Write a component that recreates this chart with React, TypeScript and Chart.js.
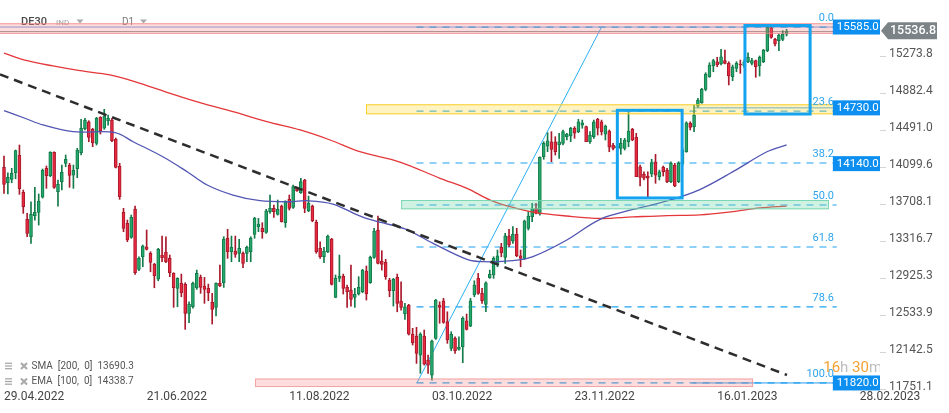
import React, { useEffect, useRef } from 'react';
import { Chart, registerables } from 'chart.js';

Chart.register(...registerables);

// ---------- DATA ----------
const opens = [
  14101, 13938, 13974, 14044, 14228, 13836, 13551, 13367, 13589, 13625,
  13784, 14090, 14012, 14260, 13843, 13949, 14143, 14122, 14019, 14086,
  14255, 14509, 14583, 14503, 14355, 14630, 14514, 14594, 14601, 14397,
  14115, 13625, 13508, 13360, 13660, 13022, 13155, 13261, 13191, 13078,
  12919, 13173, 13205, 13138, 12979, 12821, 12874, 12863, 12556, 12626,
  12826, 12937, 12845, 12821, 12673, 12620, 12874, 12880, 13350, 13208,
  13215, 13191, 13191, 13191, 13208, 13392, 13472, 13456, 13413, 13631,
  13667, 13604, 13691, 13515, 13762, 13678, 13879, 13832, 13967, 13642,
  13691, 13519, 13244, 13155, 13208, 13342, 12726, 12927, 12951, 12831,
  12803, 12726, 12761, 12785, 13004, 12880, 13149, 13438, 13110, 13096,
  12909, 12795, 12937, 12686, 12549, 12644, 12337, 12316, 12115, 12316,
  12062, 11903, 12292, 12644, 12690, 12468, 12186, 12292, 12176, 12203,
  12478, 12422, 12750, 12927, 12768, 12652, 12933, 12962, 13085, 13255,
  13149, 13374, 13321, 13395, 13166, 13138, 13456, 13578, 13667, 13607,
  14213, 14326, 14372, 14372, 14337, 14355, 14425, 14432, 14514, 14478,
  14548, 14531, 14372, 14425, 14609, 14583, 14453, 14485, 14337, 14306,
  14302, 14302, 14372, 14503, 14418, 14107, 14030, 14009, 14030, 14160,
  14002, 14101, 14072, 13949, 14125, 13949, 14136, 14266, 14566, 14531,
  14749, 14784, 14926, 15060, 15173, 15218, 15194, 15229, 15201, 15060,
  15148, 15194, 15176, 15218, 15201, 15229, 15173, 15218, 15335, 15572,
  15455, 15440, 15455, 15510,
];
const highs = [
  14221, 14044, 14090, 14284, 14337, 13861, 13614, 13737, 13889, 13819,
  14083, 14115, 14266, 14266, 13967, 14125, 14231, 14143, 14125, 14302,
  14609, 14619, 14594, 14514, 14630, 14636, 14715, 14654, 14619, 14411,
  14143, 13667, 13543, 13596, 13691, 13155, 13279, 13438, 13208, 13085,
  13244, 13374, 13367, 13173, 12986, 12933, 12972, 12880, 12679, 12887,
  13014, 12962, 12937, 12866, 12768, 12880, 13067, 13367, 13445, 13374,
  13374, 13339, 13208, 13268, 13367, 13572, 13561, 13515, 13657, 13808,
  13702, 13755, 13702, 13748, 13808, 13914, 13893, 13985, 13974, 13797,
  13702, 13543, 13314, 13255, 13385, 13350, 12962, 13173, 12972, 12856,
  13067, 12821, 12944, 13022, 13057, 13162, 13456, 13586, 13219, 13128,
  12927, 12927, 12972, 12891, 12662, 12652, 12398, 12408, 12351, 12380,
  12115, 12274, 12704, 12679, 12715, 12573, 12362, 12309, 12309, 12520,
  12549, 12715, 12901, 12979, 12821, 12891, 13014, 13155, 13226, 13297,
  13403, 13445, 13473, 13456, 13226, 13543, 13631, 13720, 13720, 14213,
  14372, 14467, 14478, 14425, 14461, 14496, 14461, 14524, 14531, 14609,
  14601, 14538, 14478, 14601, 14619, 14601, 14548, 14496, 14355, 14346,
  14408, 14408, 14689, 14514, 14461, 14125, 14054, 14054, 14186, 14238,
  14072, 14115, 14090, 14160, 14143, 14160, 14306, 14583, 14583, 14760,
  14831, 14937, 15102, 15208, 15244, 15265, 15349, 15342, 15218, 15183,
  15218, 15236, 15236, 15313, 15254, 15236, 15279, 15349, 15588, 15582,
  15466, 15511, 15546, 15560,
];
const lows = [
  13826, 13819, 13938, 13980, 13815, 13614, 13367, 13297, 13543, 13490,
  13776, 13879, 14002, 13879, 13691, 13861, 14107, 13889, 13879, 13991,
  14231, 14496, 14372, 14319, 14337, 14453, 14503, 14548, 14372, 14094,
  13762, 13420, 13314, 13350, 12969, 13007, 13049, 13226, 12996, 12827,
  12901, 13102, 13092, 12944, 12620, 12626, 12732, 12387, 12457, 12612,
  12810, 12768, 12662, 12690, 12443, 12528, 12838, 12831, 13138, 13102,
  13149, 13102, 13039, 13102, 13102, 13350, 13420, 13350, 13403, 13614,
  13572, 13596, 13522, 13466, 13649, 13667, 13845, 13826, 13621, 13631,
  13525, 13191, 13138, 13092, 13197, 12856, 12721, 12891, 12761, 12620,
  12633, 12620, 12750, 12774, 12697, 12874, 13138, 13078, 13014, 12916,
  12732, 12633, 12573, 12591, 12493, 12327, 12221, 12027, 11922, 12009,
  11922, 11850, 12281, 12451, 12451, 12239, 12161, 12133, 12168, 12034,
  12380, 12415, 12732, 12757, 12662, 12573, 12927, 12927, 13049, 13155,
  13085, 13261, 13297, 13155, 13049, 13128, 13438, 13525, 13607, 13596,
  14186, 14266, 14160, 14231, 14196, 14337, 14390, 14372, 14408, 14467,
  14514, 14372, 14355, 14408, 14443, 14443, 14390, 14266, 14284, 14286,
  14238, 14284, 14319, 14382, 14002, 13903, 13967, 13779, 14002, 13932,
  13967, 14009, 13938, 13938, 13896, 13938, 14116, 14260, 14496, 14478,
  14736, 14778, 14911, 15053, 15112, 15165, 15183, 15194, 14972, 15017,
  15112, 15095, 15156, 15208, 15183, 15053, 15067, 15208, 15324, 15466,
  15384, 15335, 15440, 15490,
];
const closes = [
  13921, 13995, 14037, 14277, 13875, 13684, 13403, 13604, 13625, 13744,
  14069, 14012, 14260, 13889, 13921, 14048, 14186, 14016, 14072, 14284,
  14514, 14601, 14418, 14361, 14619, 14485, 14644, 14619, 14382, 14101,
  13790, 13456, 13332, 13572, 12986, 13138, 13268, 13233, 13096, 12954,
  13233, 13145, 13102, 12986, 12827, 12927, 12774, 12556, 12655, 12874,
  12979, 12831, 12810, 12774, 12599, 12874, 12848, 13342, 13208, 13255,
  13181, 13244, 13085, 13255, 13350, 13561, 13501, 13420, 13642, 13667,
  13631, 13657, 13525, 13737, 13667, 13896, 13853, 13949, 13667, 13720,
  13536, 13208, 13155, 13215, 13374, 12863, 12927, 12951, 12821, 12785,
  12704, 12757, 12831, 13014, 12761, 13149, 13427, 13085, 13075, 12944,
  12795, 12916, 12662, 12620, 12626, 12337, 12245, 12133, 12337, 12020,
  12009, 12263, 12697, 12620, 12461, 12274, 12334, 12161, 12197, 12503,
  12387, 12690, 12856, 12768, 12690, 12880, 12969, 13138, 13166, 13197,
  13377, 13279, 13392, 13166, 13138, 13533, 13586, 13663, 13614, 14207,
  14355, 14382, 14291, 14266, 14372, 14478, 14453, 14514, 14461, 14583,
  14573, 14372, 14443, 14583, 14514, 14478, 14538, 14313, 14302, 14326,
  14355, 14390, 14485, 14390, 14002, 13995, 13985, 13985, 14150, 14019,
  14054, 14054, 13949, 14143, 13903, 14143, 14286, 14573, 14524, 14654,
  14813, 14926, 15088, 15183, 15229, 15183, 15271, 15201, 15067, 15165,
  15201, 15183, 15216, 15265, 15229, 15165, 15265, 15342, 15582, 15476,
  15406, 15501, 15511, 15536.8,
];

const xTickIdx = [0, 37, 74, 111, 148, 185, 222];
const xTickLabels = ['29.04.2022', '21.06.2022', '11.08.2022', '03.10.2022', '23.11.2022', '16.01.2023', '28.02.2023'];
const yTickValues = [11751.1, 12142.5, 12533.9, 12925.3, 13316.7, 13708.1, 14099.6, 14491.0, 14882.4, 15273.8];

const smaIdx = [0, 5.4, 12.7, 19.7, 27.5, 35.3, 43.1, 50.8, 59.4, 68.2, 76.8, 84.6, 92.3, 102.7, 113.1, 120.1, 126.1, 131.3, 137.2, 146, 154.6, 163.2, 172, 180.5, 189.1, 196.1, 203];
const smaVal = [15310, 15236, 15173, 15123, 15078, 14990, 14884, 14785, 14689, 14584, 14496, 14390, 14266, 14157, 13985, 13879, 13755, 13684, 13628, 13586, 13560, 13576, 13591, 13597, 13632, 13671, 13690.3];
const emaIdx = [0, 5.4, 10.1, 17.9, 28.8, 33.5, 41.2, 47.5, 52.7, 59.4, 66.4, 74.2, 78.6, 85.3, 92.9, 98.1, 104, 111.3, 120.1, 124.3, 132, 137.2, 146, 154.6, 163.2, 172, 180.5, 189.1, 197.9, 203];
const emaVal = [14700, 14620, 14549, 14478, 14469, 14372, 14213, 14055, 13914, 13808, 13748, 13737, 13748, 13713, 13576, 13515, 13449, 13297, 13128, 13103, 13113, 13156, 13332, 13551, 13655, 13745, 13866, 14055, 14266, 14338.7];

const fibNames = ['0.0', '23.6', '38.2', '50.0', '61.8', '78.6', '100.0'];
const fibValues = [15585, 14696.5, 14146.8, 13702.5, 13258.2, 12625.7, 11820];
const fibIdxRange = [107, 216];
const fibDiagIdx = [107.1, 155];
const fibDiagVal = [11820, 15585];

const trendIdx = [-1.04, 203.1];
const trendVal = [15084, 11904];

const levelValues = [15585.0, 14730.0, 14140.0, 11820.0];
const levelLineStartIdx = [-2, 179.2, null, 178.5];
const lastPrice = 15536.8;

const topBandIdx = [-2, 230];
const topBandVal = [15625, 15513];
const yellowBandIdx = [93.9, 230];
const yellowBandVal = [14768, 14662];
const greenBandIdx = [103, 214];
const greenBandVal = [13755, 13657];
const bottomBandIdx = [65.1, 194.3];
const bottomBandVal = [11867, 11777];

const box1Idx = [159.1, 175.9];
const box1Val = [14704, 13777];
const box2Idx = [192.2, 209.1];
const box2Val = [15601, 14665];

const smaLabel = 'SMA  [200,  0]  13690.3';
const emaLabel = 'EMA  [100,  0]  14338.7';

const X_MIN = -1.04;
const X_MAX = 227.23;
const Y_MIN = 11745.5;
const Y_MAX = 15871;

const GREEN = '#25a86c';
const GREEN_DARK = '#137a49';
const RED = '#e8293f';
const RED_DARK = '#a8192b';
const FONT = 'Roboto, sans-serif';

const isUp = (i: number) => closes[i] >= opens[i];

const overlay = {
  id: 'overlay',
  beforeDatasetsDraw(chart: any) {
    const { ctx, chartArea: a } = chart;
    const xs = chart.scales.x;
    const ys = chart.scales.y;
    const px = (v: number) => xs.getPixelForValue(v);
    const py = (v: number) => ys.getPixelForValue(v);
    ctx.save();
    ctx.beginPath();
    ctx.rect(a.left, a.top, a.right - a.left, a.bottom - a.top);
    ctx.clip();

    // header
    ctx.textBaseline = 'middle';
    ctx.textAlign = 'left';
    ctx.fillStyle = '#4a4a4a';
    ctx.font = `500 11px ${FONT}`;
    ctx.fillText('DE30', 21, 22);
    ctx.fillStyle = '#a0a0a0';
    ctx.font = `8px ${FONT}`;
    ctx.fillText('IND', 56, 23);
    ctx.fillStyle = '#7a7a7a';
    ctx.font = `10px ${FONT}`;
    ctx.fillText('D1', 122, 22);
    ctx.fillStyle = '#aaaaaa';
    [80, 143.5].forEach((cx) => {
      ctx.beginPath();
      ctx.moveTo(cx - 3.5, 19.5);
      ctx.lineTo(cx + 3.5, 19.5);
      ctx.lineTo(cx, 23.5);
      ctx.closePath();
      ctx.fill();
    });

    // current price line
    ctx.strokeStyle = 'rgba(110,110,110,0.75)';
    ctx.lineWidth = 1;
    ctx.beginPath();
    ctx.moveTo(a.left, py(lastPrice));
    ctx.lineTo(a.right, py(lastPrice));
    ctx.stroke();

    // level lines (solid)
    levelValues.forEach((v, i) => {
      const s = levelLineStartIdx[i];
      if (s === null) return;
      ctx.strokeStyle = i === 0 ? '#6f9de6' : '#2d9cf0';
      ctx.lineWidth = 1;
      ctx.beginPath();
      ctx.moveTo(Math.max(a.left, px(s)), py(v));
      ctx.lineTo(a.right, py(v));
      ctx.stroke();
    });

    // fib dashed lines
    ctx.strokeStyle = '#1ea2f0';
    ctx.lineWidth = 1.2;
    ctx.setLineDash([7, 6]);
    fibValues.forEach((v) => {
      ctx.beginPath();
      ctx.moveTo(px(fibIdxRange[0]), py(v));
      ctx.lineTo(px(fibIdxRange[1]), py(v));
      ctx.stroke();
    });
    ctx.setLineDash([]);

    // fib diagonal
    ctx.strokeStyle = '#2bb0f5';
    ctx.lineWidth = 1;
    ctx.beginPath();
    ctx.moveTo(px(fibDiagIdx[0]), py(fibDiagVal[0]));
    ctx.lineTo(px(fibDiagIdx[1]), py(fibDiagVal[1]));
    ctx.stroke();

    ctx.restore();
  },
  afterDatasetsDraw(chart: any) {
    const { ctx, chartArea: a } = chart;
    const xs = chart.scales.x;
    const ys = chart.scales.y;
    const px = (v: number) => xs.getPixelForValue(v);
    const py = (v: number) => ys.getPixelForValue(v);
    ctx.save();
    ctx.beginPath();
    ctx.rect(a.left, a.top, a.right - a.left, a.bottom - a.top);
    ctx.clip();

    const band = (idx: number[], val: number[], fill: string, stroke: string) => {
      const x1 = px(idx[0]);
      const x2 = px(idx[1]);
      const y1 = py(val[0]);
      const y2 = py(val[1]);
      ctx.fillStyle = fill;
      ctx.fillRect(x1, y1, x2 - x1, y2 - y1);
      ctx.strokeStyle = stroke;
      ctx.lineWidth = 1;
      ctx.strokeRect(x1 + 0.5, y1 + 0.5, x2 - x1 - 1, y2 - y1 - 1);
    };
    band(topBandIdx, topBandVal, 'rgba(244,130,130,0.28)', 'rgba(240,130,130,0.75)');
    band(bottomBandIdx, bottomBandVal, 'rgba(244,130,130,0.28)', 'rgba(240,140,140,0.7)');
    band(yellowBandIdx, yellowBandVal, 'rgba(255,220,80,0.35)', 'rgba(247,205,40,0.95)');
    band(greenBandIdx, greenBandVal, 'rgba(110,215,170,0.33)', 'rgba(110,210,170,0.85)');

    // blue boxes
    ctx.strokeStyle = '#13a3ef';
    ctx.lineWidth = 3;
    [[box1Idx, box1Val], [box2Idx, box2Val]].forEach(([bi, bv]) => {
      const x1 = px(bi[0]);
      const x2 = px(bi[1]);
      const y1 = py(bv[0]);
      const y2 = py(bv[1]);
      ctx.strokeRect(x1, y1, x2 - x1, y2 - y1);
    });

    // black dashed trend line
    ctx.strokeStyle = '#2d2d2d';
    ctx.lineWidth = 2.5;
    ctx.setLineDash([9, 6]);
    ctx.beginPath();
    ctx.moveTo(px(trendIdx[0]), py(trendVal[0]));
    ctx.lineTo(px(trendIdx[1]), py(trendVal[1]));
    ctx.stroke();
    ctx.setLineDash([]);

    // fib labels
    ctx.font = `11px ${FONT}`;
    ctx.fillStyle = '#2ea4ec';
    ctx.textAlign = 'right';
    ctx.textBaseline = 'middle';
    fibValues.forEach((v, i) => {
      ctx.fillText(fibNames[i], px(215.3), py(v) - 9);
    });

    // timer
    ctx.textAlign = 'left';
    ctx.font = `15px ${FONT}`;
    let tx = px(212.5);
    const ty = py(11820) - 15;
    [['16', '#f5a032'], ['h', '#bdbdbd'], [' 30', '#f5a032'], ['m', '#bdbdbd']].forEach(([t, c]) => {
      ctx.fillStyle = c;
      ctx.fillText(t, tx, ty);
      tx += ctx.measureText(t).width;
    });

    // indicator legend
    const legendRows = [smaLabel, emaLabel];
    legendRows.forEach((label, r) => {
      const cy = a.bottom - 24 + r * 15.5;
      ctx.strokeStyle = '#a8a8a8';
      ctx.lineWidth = 1.3;
      for (let k = -1; k <= 1; k++) {
        ctx.beginPath();
        ctx.moveTo(a.left + 5, cy + k * 2.7);
        ctx.lineTo(a.left + 12, cy + k * 2.7);
        ctx.stroke();
      }
      ctx.lineWidth = 2;
      ctx.beginPath();
      ctx.moveTo(a.left + 21, cy - 3);
      ctx.lineTo(a.left + 27, cy + 3);
      ctx.moveTo(a.left + 27, cy - 3);
      ctx.lineTo(a.left + 21, cy + 3);
      ctx.stroke();
      ctx.fillStyle = '#555555';
      ctx.font = `10px ${FONT}`;
      ctx.textAlign = 'left';
      ctx.fillText(label, a.left + 31.5, cy);
    });

    ctx.restore();
  },
  afterDraw(chart: any) {
    const { ctx, chartArea: a } = chart;
    const xs = chart.scales.x;
    const ys = chart.scales.y;
    const px = (v: number) => xs.getPixelForValue(v);
    const py = (v: number) => ys.getPixelForValue(v);
    ctx.save();
    // level label boxes
    levelValues.forEach((v) => {
      const x1 = px(215);
      const cy = py(v);
      ctx.fillStyle = '#0c8ff0';
      ctx.fillRect(x1, cy - 7.5, a.right - x1, 15);
      ctx.fillStyle = '#ffffff';
      ctx.font = `11.5px ${FONT}`;
      ctx.textAlign = 'left';
      ctx.textBaseline = 'middle';
      ctx.fillText(v.toFixed(1), x1 + 4, cy + 0.5);
    });
    // current price tag
    const cy = py(lastPrice) - 0.8;
    const l = a.right + 1;
    ctx.fillStyle = '#7b8387';
    ctx.beginPath();
    ctx.moveTo(l, cy);
    ctx.lineTo(l + 7, cy - 8.5);
    ctx.lineTo(l + 56, cy - 8.5);
    ctx.lineTo(l + 56, cy + 8.5);
    ctx.lineTo(l + 7, cy + 8.5);
    ctx.closePath();
    ctx.fill();
    ctx.fillStyle = '#ffffff';
    ctx.font = `500 12.5px ${FONT}`;
    ctx.textAlign = 'left';
    ctx.textBaseline = 'middle';
    ctx.fillText(lastPrice.toFixed(1), l + 9, cy + 0.5);
    ctx.restore();
  },
};

export default function App() {
  const ref = useRef<HTMLCanvasElement | null>(null);
  useEffect(() => {
    document.body.style.margin = '0';
    const canvas = ref.current;
    if (!canvas) return;
    Chart.defaults.font.family = FONT;
    const wickData = opens.map((_, i) => ({ x: i, y: [lows[i], highs[i]] }));
    const bodyData = opens.map((_, i) => ({ x: i, y: [opens[i], closes[i]] }));
    const smaData = smaIdx.map((x, i) => ({ x, y: smaVal[i] }));
    const emaData = emaIdx.map((x, i) => ({ x, y: emaVal[i] }));
    const chart = new Chart(canvas, {
      type: 'bar',
      data: {
        datasets: [
          {
            type: 'bar',
            data: wickData as any,
            backgroundColor: (c: any) => (isUp(c.dataIndex) ? GREEN_DARK : RED_DARK),
            barThickness: 1,
            grouped: false,
            borderWidth: 0,
            order: 4,
          } as any,
          {
            type: 'bar',
            data: bodyData as any,
            backgroundColor: (c: any) => (isUp(c.dataIndex) ? GREEN : RED),
            borderColor: (c: any) => (isUp(c.dataIndex) ? GREEN_DARK : RED_DARK),
            borderWidth: 1,
            borderSkipped: false,
            barThickness: 3,
            minBarLength: 1,
            grouped: false,
            order: 3,
          } as any,
          {
            type: 'line',
            data: smaData as any,
            borderColor: '#e4373a',
            borderWidth: 1.3,
            pointRadius: 0,
            tension: 0.35,
            order: 2,
          } as any,
          {
            type: 'line',
            data: emaData as any,
            borderColor: '#5155b3',
            borderWidth: 1.3,
            pointRadius: 0,
            tension: 0.35,
            order: 1,
          } as any,
        ],
      },
      options: {
        responsive: false,
        maintainAspectRatio: false,
        animation: false,
        layout: { padding: 0 },
        plugins: { legend: { display: false }, tooltip: { enabled: false } },
        scales: {
          x: {
            type: 'linear',
            offset: false,
            min: X_MIN,
            max: X_MAX,
            afterFit: (s: any) => {
              s.height = 23;
              s.paddingLeft = 0;
              s.paddingRight = 0;
            },
            afterBuildTicks: (s: any) => {
              s.ticks = xTickIdx.map((v) => ({ value: v }));
            },
            ticks: {
              callback: (_v: any, i: number) => xTickLabels[i] ?? '',
              align: 'start',
              maxRotation: 0,
              autoSkip: false,
              padding: 0,
              color: '#444444',
              font: { size: 12, family: FONT },
            },
            grid: { display: false, drawTicks: false, offset: false },
            border: { display: false },
          } as any,
          y: {
            type: 'linear',
            position: 'right',
            min: Y_MIN,
            max: Y_MAX,
            afterFit: (s: any) => {
              s.width = 69;
              s.paddingTop = 0;
              s.paddingBottom = 0;
            },
            afterBuildTicks: (s: any) => {
              s.ticks = yTickValues.map((v) => ({ value: v }));
            },
            ticks: {
              callback: (_v: any, i: number) => (yTickValues[i] !== undefined ? yTickValues[i].toFixed(1) : ''),
              autoSkip: false,
              padding: 3,
              labelOffset: -2.5,
              color: '#555555',
              font: { size: 12, family: FONT },
            },
            grid: { drawOnChartArea: false, drawTicks: true, tickLength: 6, tickColor: '#d4d4d4' },
            border: { display: false },
          } as any,
        },
      },
      plugins: [overlay],
    });
    return () => chart.destroy();
  }, []);
  return (
    <div style={{ position: 'absolute', left: 0, top: 0, width: 949, height: 413, background: '#ffffff' }}>
      <canvas ref={ref} width={949} height={413} style={{ display: 'block' }} />
    </div>
  );
}
